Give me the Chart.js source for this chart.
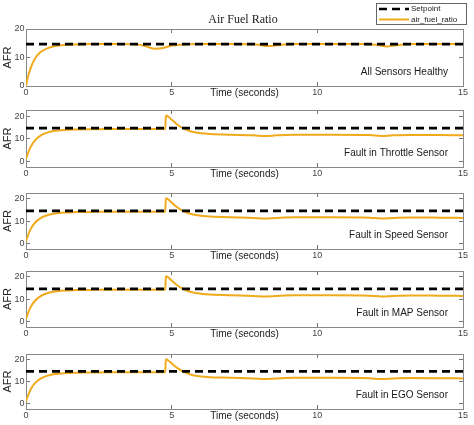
<!DOCTYPE html>
<html>
<head>
<meta charset="utf-8">
<script src="https://cdn.jsdelivr.net/npm/chart.js@4.4.0/dist/chart.umd.min.js"></script>
<style>
  body { margin: 0; background: #fff; }
  #wrap { position: relative; width: 474px; height: 425px; }
  #wrap canvas { position: absolute; left: 0; }
</style>
</head>
<body>
<div id="wrap"></div>
<script>
// tick labels
const xTicks = [0, 5, 10, 15];
const yTicks = [0, 10, 20];

// setpoint line
const setTime = [0, 15];
const setpoint = [14.7, 14.7];

// all sensors healthy
const healthyTime = [0, 0.05, 0.15, 0.3, 0.5, 0.75, 1.0, 1.3, 1.7, 2.2, 3.0, 3.8, 4.1, 4.4, 4.7, 5.0, 5.4, 6.0, 7.0, 7.9, 8.3, 8.7, 9.2, 10.5, 11.5, 12.0, 12.4, 12.8, 13.3, 14.2, 15.0];
const healthy = [0, 2.5, 6.0, 9.5, 11.9, 13.3, 14.0, 14.4, 14.6, 14.7, 14.7, 14.6, 14.0, 13.1, 13.3, 14.2, 14.6, 14.7, 14.7, 14.6, 14.0, 14.4, 14.7, 14.7, 14.7, 14.5, 13.9, 14.4, 14.7, 14.7, 14.7];

// sensor fault cases
const faultTime = [0, 0.05, 0.15, 0.3, 0.5, 0.75, 1.0, 1.3, 1.7, 2.2, 3.0, 4.0, 4.78, 4.8, 4.9, 5.0, 5.2, 5.4, 5.7, 6.2, 7.0, 7.8, 8.2, 8.6, 9.2, 10.5, 11.8, 12.2, 12.6, 13.2, 14.2, 15.0];
const faultThrottle = [1.0, 3.0, 6.2, 9.2, 11.4, 12.8, 13.5, 13.9, 14.1, 14.2, 14.3, 14.3, 14.3, 20.3, 19.6, 18.4, 16.2, 14.6, 13.1, 12.2, 11.8, 11.5, 11.2, 11.5, 11.8, 11.8, 11.6, 11.2, 11.5, 11.7, 11.6, 11.5];
const faultSpeed = [1.0, 3.0, 6.2, 9.2, 11.4, 12.8, 13.5, 13.9, 14.1, 14.2, 14.3, 14.3, 14.3, 20.3, 19.6, 18.4, 16.2, 14.6, 13.1, 12.2, 11.8, 11.5, 11.2, 11.5, 11.8, 11.8, 11.6, 11.2, 11.5, 11.7, 11.6, 11.5];
const faultMap = [1.0, 3.0, 6.2, 9.2, 11.4, 12.8, 13.5, 13.9, 14.1, 14.2, 14.3, 14.3, 14.3, 20.3, 19.6, 18.4, 16.2, 14.6, 13.1, 12.2, 11.8, 11.5, 11.2, 11.5, 11.8, 11.8, 11.6, 11.2, 11.5, 11.7, 11.6, 11.5];
const faultEgo = [1.0, 3.0, 6.2, 9.2, 11.4, 12.8, 13.5, 13.9, 14.1, 14.2, 14.3, 14.3, 14.3, 20.3, 19.6, 18.4, 16.2, 14.6, 13.1, 12.2, 11.8, 11.5, 11.2, 11.5, 11.8, 11.8, 11.6, 11.2, 11.5, 11.7, 11.6, 11.5];

const panelNotes = ['All Sensors Healthy', 'Fault in Throttle Sensor', 'Fault in Speed Sensor', 'Fault in MAP Sensor', 'Fault in EGO Sensor'];
const panelTimes = [healthyTime, faultTime, faultTime, faultTime, faultTime];
const panelValues = [healthy, faultThrottle, faultSpeed, faultMap, faultEgo];


// layout of each panel box on the page (top, bottom) and y range
const boxes = [[29, 86], [110, 167], [193, 249], [271, 327], [354, 409]];
const yRanges = [[0, 20], [-2.5, 22.7], [-2.5, 22.7], [-2.5, 22.7], [-2.5, 22.7]];

const FONT = 'Arial, "Liberation Sans", sans-serif';
const ORANGE = '#F0AA1C';

function pts(xs, ys) {
  return xs.map((x, i) => ({x: x, y: ys[i]}));
}

function fixedTicks(vals) {
  return (scale) => { scale.ticks = vals.map(v => ({value: v})); };
}

//draws the panel note, plus title and boxed legend on the first panel
const extras = {
  id: 'extras',
  afterDraw(chart, args, opts) {
    const ctx = chart.ctx;
    const a = chart.chartArea;
    ctx.save();
    ctx.font = '10px ' + FONT;
    ctx.fillStyle = '#1a1a1a';
    ctx.textAlign = 'right';
    ctx.textBaseline = 'middle';
    ctx.fillText(opts.note, a.right - 15, a.bottom - 14);

    if (opts.head) {
      ctx.font = '12px "Times New Roman", "Liberation Serif", serif';
      ctx.textAlign = 'center';
      ctx.fillText('Air Fuel Ratio', 243, 20);

      // legend box
      ctx.fillStyle = '#fff';
      ctx.fillRect(376.5, 3.5, 90, 21);
      ctx.strokeStyle = '#666';
      ctx.lineWidth = 1;
      ctx.strokeRect(376.5, 3.5, 90, 21);
      ctx.font = '8px ' + FONT;
      ctx.textAlign = 'left';
      chart.data.datasets.forEach((ds, i) => {
        const y = 9 + i * 10.5;
        ctx.beginPath();
        ctx.setLineDash(ds.borderDash || []);
        ctx.strokeStyle = ds.borderColor;
        ctx.lineWidth = ds.borderWidth;
        ctx.moveTo(379, y);
        ctx.lineTo(409, y);
        ctx.stroke();
        ctx.setLineDash([]);
        ctx.fillStyle = '#1a1a1a';
        ctx.fillText(ds.label, 411, y);
      });
    }
    ctx.restore();
  }
};

Chart.defaults.font.family = FONT;

const wrap = document.getElementById('wrap');

for (let i = 0; i < boxes.length; i++) {
  const padTop = i === 0 ? 29 : 12;
  const boxH = boxes[i][1] - boxes[i][0];
  const canvas = document.createElement('canvas');
  canvas.width = 474;
  canvas.height = padTop + boxH + 16;
  canvas.style.top = (boxes[i][0] - padTop) + 'px';
  wrap.appendChild(canvas);

  const tickGrid = {drawOnChartArea: false, drawTicks: true, tickLength: -4, color: '#777'};
  const edge = {display: true, color: '#888', width: 1};

  new Chart(canvas, {
    type: 'line',
    data: {
      datasets: [{
        label: 'Setpoint',
        data: pts(setTime, setpoint),
        borderColor: '#000',
        borderWidth: 2.7,
        borderDash: [8, 5],
        pointRadius: 0
      }, {
        label: 'air_fuel_ratio',
        data: pts(panelTimes[i], panelValues[i]),
        borderColor: ORANGE,
        borderWidth: 2,
        pointRadius: 0,
        cubicInterpolationMode: 'monotone'
      }]
    },
    options: {
      responsive: false,
      animation: false,
      layout: {padding: {top: padTop, right: 11, left: 0, bottom: 0}},
      plugins: {
        legend: {display: false},
        tooltip: {enabled: false},
        extras: {note: panelNotes[i], head: i === 0}
      },
      scales: {
        x: {
          type: 'linear', position: 'bottom', min: 0, max: 15,
          afterBuildTicks: fixedTicks(xTicks),
          grid: tickGrid, border: edge,
          ticks: {padding: 5, color: '#444', font: {size: 9}, maxRotation: 0, autoSkip: false},
          title: {display: true, text: 'Time (seconds)', color: '#222', font: {size: 10}, padding: {top: 0, bottom: 3}},
          afterFit: (s) => { s.height = 16; }
        },
        x2: {
          type: 'linear', position: 'top', min: 0, max: 15,
          afterBuildTicks: fixedTicks(xTicks),
          grid: tickGrid, border: edge,
          ticks: {display: false},
          afterFit: (s) => { s.height = 0; }
        },
        y: {
          type: 'linear', position: 'left', min: yRanges[i][0], max: yRanges[i][1],
          afterBuildTicks: fixedTicks(yTicks),
          grid: tickGrid, border: edge,
          ticks: {padding: 5.5, color: '#444', font: {size: 9}},
          title: {display: true, text: 'AFR', color: '#222', font: {size: 11}, padding: {top: 1.5, bottom: 0}},
          afterFit: (s) => { s.width = 26; }
        },
        y2: {
          type: 'linear', position: 'right', min: yRanges[i][0], max: yRanges[i][1],
          afterBuildTicks: fixedTicks(yTicks),
          grid: tickGrid, border: edge,
          ticks: {display: false},
          afterFit: (s) => { s.width = 0; }
        }
      }
    },
    plugins: [extras]
  });
}
</script>
</body>
</html>
